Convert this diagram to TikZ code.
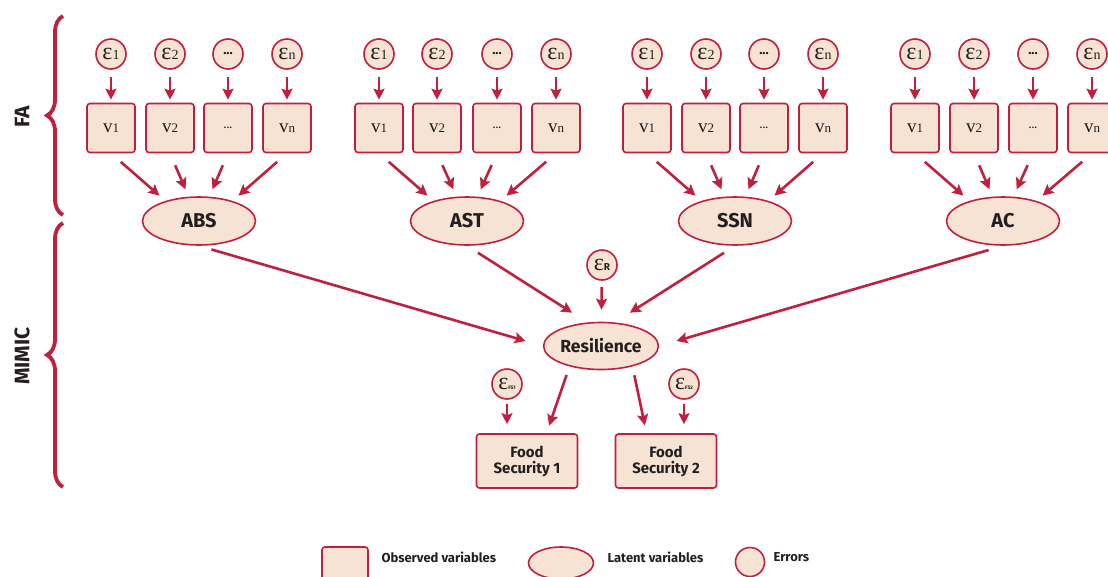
\documentclass[tikz,border=0pt]{standalone}
\usepackage{fontspec}
\setmainfont{Fira Sans}
\newfontfamily\grfont{Liberation Serif}
\usetikzlibrary{shapes.geometric,decorations.pathreplacing,arrows.meta}

\definecolor{semred}{RGB}{192,32,62}
\definecolor{semfill}{RGB}{246,227,211}
\definecolor{semtext}{RGB}{35,31,32}

\newcommand{\epsl}[1]{{\grfont\fontsize{24}{24}\selectfont ε}{\grfont\fontsize{14}{14}\selectfont #1}}
\newcommand{\epss}[2]{{\grfont\fontsize{24}{24}\selectfont ε}{\fontsize{#1}{#1}\selectfont\bfseries #2}}
\newcommand{\varv}[1]{{\grfont\fontsize{19}{19}\selectfont v}{\grfont\fontsize{13}{13}\selectfont #1}}
\newcommand{\cdotsb}{{\bfseries\fontsize{13}{13}\selectfont ...}}
\newcommand{\bdots}{{\fontsize{12}{12}\selectfont ...}}

\begin{document}
\begin{tikzpicture}[x=1pt,y=-1pt,text=semtext,
    obs/.style={draw=semred, fill=semfill, line width=1.6pt, rounded corners=3pt,
        minimum width=48pt, minimum height=49pt, inner sep=0pt},
    lat/.style={ellipse, draw=semred, fill=semfill, line width=1.6pt,
        minimum width=113pt, minimum height=48pt, inner sep=0pt,
        font=\bfseries\fontsize{20}{20}\selectfont},
    errc/.style={circle, draw=semred, fill=semfill, line width=1.6pt,
        minimum size=30pt, inner sep=0pt},
    fs/.style={obs, minimum width=101pt, minimum height=54pt, align=center,
        font=\bfseries\fontsize{15}{16}\selectfont},
    arr/.style={draw=semred, line width=2.6pt, -{Stealth[length=11pt,width=11pt,inset=2pt]}},
    errarr/.style={arr, shorten <=7pt, shorten >=3pt},
    loadarr/.style={arr, shorten <=13pt, shorten >=8pt},
    brc/.style={draw=semred, line width=3.8pt, decorate, decoration={brace, amplitude=16pt}},
    side/.style={rotate=90, font=\bfseries\fontsize{21}{21}\selectfont},
    legtext/.style={anchor=west, font=\bfseries\fontsize{13}{13}\selectfont}]

    \useasboundingbox (0,0) rectangle (1108,576);
    \clip (0,0) rectangle (1108,576);

    % braces
    \draw[brc] (63,215) -- (63,16);
    \draw[brc] (63,487) -- (63,223);
    \node[side] (fa) at (22,117) {FA};
    \node[side] (mimic) at (22,356) {MIMIC};

    % ABS
    \node[errc] (e11) at (111,54) {\epsl{1}};
    \node[errc] (e12) at (170,54) {\epsl{2}};
    \node[errc] (e13) at (228,54) {\cdotsb};
    \node[errc] (e14) at (287,54) {\epsl{n}};
    \node[obs] (v11) at (111,128) {\varv{1}};
    \node[obs] (v12) at (170,128) {\varv{2}};
    \node[obs] (v13) at (228,128) {\bdots};
    \node[obs] (v14) at (287,128) {\varv{n}};
    \node[lat] (abs) at (199,221) {ABS};
    \draw[errarr] (e11) -- (v11);
    \draw[errarr] (e12) -- (v12);
    \draw[errarr] (e13) -- (v13);
    \draw[errarr] (e14) -- (v14);
    \draw[loadarr] (v11.south) -- (abs.149);
    \draw[loadarr] (v12.south) -- (abs.113);
    \draw[loadarr] (v13.south) -- (abs.67);
    \draw[loadarr] (v14.south) -- (abs.31);

    % AST
    \node[errc] (e21) at (379,54) {\epsl{1}};
    \node[errc] (e22) at (437,54) {\epsl{2}};
    \node[errc] (e23) at (497,54) {\cdotsb};
    \node[errc] (e24) at (556,54) {\epsl{n}};
    \node[obs] (v21) at (379,128) {\varv{1}};
    \node[obs] (v22) at (437,128) {\varv{2}};
    \node[obs] (v23) at (497,128) {\bdots};
    \node[obs] (v24) at (556,128) {\varv{n}};
    \node[lat] (ast) at (467,221) {AST};
    \draw[errarr] (e21) -- (v21);
    \draw[errarr] (e22) -- (v22);
    \draw[errarr] (e23) -- (v23);
    \draw[errarr] (e24) -- (v24);
    \draw[loadarr] (v21.south) -- (ast.149);
    \draw[loadarr] (v22.south) -- (ast.113);
    \draw[loadarr] (v23.south) -- (ast.67);
    \draw[loadarr] (v24.south) -- (ast.31);

    % SSN
    \node[errc] (e31) at (647,54) {\epsl{1}};
    \node[errc] (e32) at (706,54) {\epsl{2}};
    \node[errc] (e33) at (764,54) {\cdotsb};
    \node[errc] (e34) at (823,54) {\epsl{n}};
    \node[obs] (v31) at (647,128) {\varv{1}};
    \node[obs] (v32) at (706,128) {\varv{2}};
    \node[obs] (v33) at (764,128) {\bdots};
    \node[obs] (v34) at (823,128) {\varv{n}};
    \node[lat] (ssn) at (735,221) {SSN};
    \draw[errarr] (e31) -- (v31);
    \draw[errarr] (e32) -- (v32);
    \draw[errarr] (e33) -- (v33);
    \draw[errarr] (e34) -- (v34);
    \draw[loadarr] (v31.south) -- (ssn.149);
    \draw[loadarr] (v32.south) -- (ssn.113);
    \draw[loadarr] (v33.south) -- (ssn.67);
    \draw[loadarr] (v34.south) -- (ssn.31);

    % AC
    \node[errc] (e41) at (915,54) {\epsl{1}};
    \node[errc] (e42) at (974,54) {\epsl{2}};
    \node[errc] (e43) at (1033,54) {\cdotsb};
    \node[errc] (e44) at (1092,54) {\epsl{n}};
    \node[obs] (v41) at (915,128) {\varv{1}};
    \node[obs] (v42) at (974,128) {\varv{2}};
    \node[obs] (v43) at (1033,128) {\bdots};
    \node[obs] (v44) at (1092,128) {\varv{n}};
    \node[lat] (ac) at (1003,221) {AC};
    \draw[errarr] (e41) -- (v41);
    \draw[errarr] (e42) -- (v42);
    \draw[errarr] (e43) -- (v43);
    \draw[errarr] (e44) -- (v44);
    \draw[loadarr] (v41.south) -- (ac.149);
    \draw[loadarr] (v42.south) -- (ac.113);
    \draw[loadarr] (v43.south) -- (ac.67);
    \draw[loadarr] (v44.south) -- (ac.31);

    % MIMIC part
    \node[lat, minimum width=112pt, minimum height=47pt,
        font=\bfseries\fontsize{17.5}{17.5}\selectfont] (res) at (601,346) {Resilience};
    \node[errc] (er) at (602,265) {\epss{10}{R}};
    \node[errc] (efs1) at (507,384) {\epss{5}{FS1}};
    \node[errc] (efs2) at (684,384) {\epss{5}{FS2}};
    \node[fs] (fs1) at (527,461) {Food\\Security 1};
    \node[fs] (fs2) at (666,461) {Food\\Security 2};

    \draw[arr, shorten <=13pt, shorten >=18pt] (abs.south) -- (res.west);
    \draw[arr, shorten <=13pt, shorten >=18pt] (ast.south) -- (res.120);
    \draw[arr, shorten <=13pt, shorten >=18pt] (ssn.south) -- (res.60);
    \draw[arr, shorten <=15pt, shorten >=18pt] (ac.south) -- (res.east);
    \draw[arr, shorten <=6pt, shorten >=12pt] (er) -- (res);
    \draw[arr, shorten <=4pt, shorten >=9pt] (efs1) -- (efs1 |- fs1.north);
    \draw[arr, shorten <=4pt, shorten >=9pt] (efs2) -- (efs2 |- fs2.north);
    \draw[arr, shorten <=9pt, shorten >=8pt] (res.213) -- (fs1.55);
    \draw[arr, shorten <=9pt, shorten >=8pt] (res.-33) -- (fs2.125);

    % legend
    \node[obs, minimum width=46pt, minimum height=46pt] (lobs) at (345,570) {};
    \node[legtext] (tobs) at (378,557) {Observed variables};
    \node[lat, minimum width=65pt, minimum height=32pt] (llat) at (561,563) {};
    \node[legtext] (tlat) at (604,557) {Latent variables};
    \node[errc, minimum size=29pt] (lerr) at (750,562) {};
    \node[legtext] (terr) at (770,557) {Errors};
\end{tikzpicture}
\end{document}
